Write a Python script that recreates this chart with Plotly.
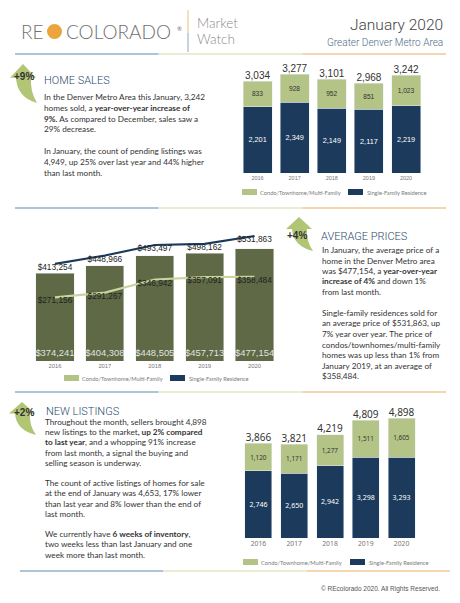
import plotly.graph_objects as go

W, H = 460, 603
def px(x): return x / W
def py(y): return 1 - y / H

# ---------------- data ----------------
years = ["2016", "2017", "2018", "2019", "2020"]
sales_condo = [833, 928, 952, 851, 1023]
sales_sfr = [2201, 2349, 2149, 2117, 2219]
sales_total = [3034, 3277, 3101, 2968, 3242]

price_all = [374241, 404308, 448505, 457713, 477154]
price_sfr = [413254, 448966, 493497, 498162, 531863]
price_condo = [271156, 291267, 346942, 357091, 358484]

list_condo = [1120, 1171, 1277, 1511, 1605]
list_sfr = [2746, 2650, 2942, 3298, 3293]
list_total = [3866, 3821, 4219, 4809, 4898]

legend_labels = ["Condo/Townhome/Multi-Family", "Single-Family Residence"]

# ---------------- styles ----------------
GREEN = "#b4c487"
NAVY = "#1c3a5c"
OLIVE = "#5f6945"
LINEGREEN = "#c9d59c"
HEAD = "#2b4a6e"
BODY = "Lato"
NUM = "Liberation Sans"
SEP_BLUE, SEP_GREEN, SEP_ORANGE = "#93b2cb", "#e0e8c6", "#f3c896"

fig = go.Figure()

# ---- chart 1: home sales ----
fig.add_bar(x=years, y=sales_sfr, xaxis="x", yaxis="y", marker_color=NAVY, width=0.78,
            text=[f"{v:,}" for v in sales_sfr], textposition="inside", insidetextanchor="middle",
            textangle=0, constraintext="none", textfont=dict(family=NUM, size=7.3, color="white"))
fig.add_bar(x=years, y=sales_condo, xaxis="x", yaxis="y", marker_color=GREEN, width=0.78,
            text=[f"{v:,}" for v in sales_condo], textposition="inside", insidetextanchor="middle",
            textangle=0, constraintext="none", textfont=dict(family=NUM, size=6.6, color="#333"))
fig.add_scatter(x=years, y=sales_total, xaxis="x", yaxis="y", mode="text",
                text=[f"{v:,}" for v in sales_total], textposition="top center",
                textfont=dict(family=NUM, size=10, color="#333"), cliponaxis=False)

# ---- chart 2: average prices ----
fig.add_bar(x=years, y=price_all, xaxis="x2", yaxis="y2", marker_color=OLIVE, width=0.764,
            text=[f"${v:,}" for v in price_all], textposition="inside", insidetextanchor="start",
            textangle=0, constraintext="none", textfont=dict(family=NUM, size=9.4, color="#e2e2e2"))
fig.add_scatter(x=years, y=price_condo, xaxis="x2", yaxis="y2", mode="lines+text",
                line=dict(color=LINEGREEN, width=2.2),
                text=[f"${v:,}" for v in price_condo], textposition="bottom center",
                textfont=dict(family=NUM, size=8.3, color="#222"), cliponaxis=False)
fig.add_scatter(x=years, y=price_sfr, xaxis="x2", yaxis="y2", mode="lines+text",
                line=dict(color=NAVY, width=2.2),
                text=[f"${v:,}" for v in price_sfr], textposition="bottom center",
                textfont=dict(family=NUM, size=8.3, color="#222"), cliponaxis=False)

# ---- chart 3: new listings ----
fig.add_bar(x=years, y=list_sfr, xaxis="x3", yaxis="y3", marker_color=NAVY, width=0.755,
            text=[f"{v:,}" for v in list_sfr], textposition="inside", insidetextanchor="middle",
            textangle=0, constraintext="none", textfont=dict(family="Noto Sans", size=7, color="white"))
fig.add_bar(x=years, y=list_condo, xaxis="x3", yaxis="y3", marker_color=GREEN, width=0.755,
            text=[f"{v:,}" for v in list_condo], textposition="inside", insidetextanchor="middle",
            textangle=0, constraintext="none", textfont=dict(family="Noto Sans", size=6.4, color="#333"))
fig.add_scatter(x=years, y=list_total, xaxis="x3", yaxis="y3", mode="text",
                text=[f"{v:,}" for v in list_total], textposition="top center",
                textfont=dict(family="Noto Sans", size=10, color="#333"), cliponaxis=False)

def xax(d0, d1, anchor, size, fam=NUM):
    return dict(domain=[px(d0), px(d1)], anchor=anchor, type="category", showgrid=False,
                showline=False, zeroline=False, ticks="", fixedrange=True,
                tickfont=dict(family=fam, size=size, color="#777"))

def yax(top, bottom, rng, anchor):
    return dict(domain=[py(bottom), py(top)], range=rng, visible=False, anchor=anchor,
                showgrid=False, zeroline=False, fixedrange=True)

shapes = []
ann = []

def t(x, y, s, size, color="#333", anchor="left", family=BODY, weight=None):
    f = dict(family=family, size=size, color=color)
    if weight:
        f["weight"] = weight
    ann.append(dict(x=px(x), y=py(y), xref="paper", yref="paper", text=s, showarrow=False,
                    xanchor=anchor, yanchor="middle", font=f))

def line(x0, y0, x1, y1, color, w=1.5):
    shapes.append(dict(type="line", xref="paper", yref="paper", x0=px(x0), y0=py(y0),
                       x1=px(x1), y1=py(y1), line=dict(color=color, width=w)))

def rect(x0, y0, x1, y1, color):
    shapes.append(dict(type="rect", xref="paper", yref="paper", x0=px(x0), y0=py(y0),
                       x1=px(x1), y1=py(y1), fillcolor=color, line=dict(width=0)))

def path(cmds, color):
    out = []
    for c in cmds:
        if isinstance(c, str):
            out.append(c)
        else:
            out.append(f"{px(c[0]):.5f},{py(c[1]):.5f}")
    shapes.append(dict(type="path", xref="paper", yref="paper", path=" ".join(out),
                       fillcolor=color, line=dict(width=0), layer="below"))

def sep(y, x0, x1):
    a = x0 + (x1 - x0) / 3
    b = x0 + 2 * (x1 - x0) / 3
    line(x0, y, a, y, SEP_BLUE)
    line(a, y, b, y, SEP_GREEN)
    line(b, y, x1, y, SEP_ORANGE)

def arrow(ox, oy, h=40, color="#b1c575"):
    k = h / 40
    path(["M", (ox + 12, oy), "L", (ox + 25, oy + 14 * k), "L", (ox + 20, oy + 14 * k),
          "Q", (ox + 19, oy + 28 * k), (ox + 26, oy + 40 * k),
          "Q", (ox + 6, oy + 34 * k), (ox + 5, oy + 14 * k), "L", (ox - 1, oy + 14 * k), "Z"], color)

def legend(y, x_green, x_navy, size=5.7):
    rect(x_green, y - 3, x_green + 15, y + 3, GREEN)
    t(x_green + 15.5, y, legend_labels[0], size, "#7a7a7a")
    rect(x_navy, y - 3, x_navy + 15, y + 3, NAVY)
    t(x_navy + 17, y, legend_labels[1], size, "#7a7a7a")

def para(x, y0, step, lines, size=8.2):
    for i, s in enumerate(lines):
        if s:
            t(x, y0 + i * step, s, size, "#333")

# ---------------- header ----------------
t(19, 32, "RE", 19, "#707070", weight=300)
shapes.append(dict(type="circle", xref="paper", yref="paper", x0=px(47), y0=py(24),
                   x1=px(62), y1=py(39), fillcolor="#eca53c", line=dict(width=0)))
t(64, 32, "COLORADO", 19, "#707070", weight=300)
t(175, 28, "®", 6, "#707070")
line(188, 10, 188, 33, "#e9cf8e", 1.2)
line(188, 33, 188, 52, "#9db6cc", 1.2)
t(195, 23, "Market", 13.5, "#8a8a8a", weight=300)
t(195, 39, "Watch", 13.5, "#8a8a8a", weight=300)
t(445, 25, "January 2020", 15.5, "#444", anchor="right", family="Roboto", weight=300)
t(445, 42, "Greater Denver Metro Area", 10, "#4e6b89", anchor="right", family="Roboto", weight=300)
sep(54, 15, 446)

# ---------------- section 1 ----------------
arrow(11, 64, 39)
t(12, 77, "<b>+9%</b>", 10, "#333", family=NUM)
t(42, 81, "HOME SALES", 11, HEAD, family="Roboto", weight=300)
para(42, 97, 10.8, [
    "In the Denver Metro Area this January, 3,242",
    "homes sold, a <b>year-over-year increase of</b>",
    "<b>9%.</b> As compared to December, sales saw a",
    "29% decrease.",
    "",
    "In January, the count of pending listings was",
    "4,949, up 25% over last year and 44% higher",
    "than last month.",
])
legend(192, 242, 348)
sep(208, 15, 446)

# ---------------- section 2 ----------------
arrow(287, 217, 34)
t(285, 235, "<b>+4%</b>", 10, "#333", family=NUM)
t(319, 236, "AVERAGE PRICES", 11, HEAD, family="Roboto", weight=300)
para(320, 250, 10.5, [
    "In January, the average price of a",
    "home in the Denver Metro area",
    "was $477,154, a <b>year-over-year</b>",
    "<b>increase of 4%</b> and down 1%",
    "from last month.",
    "",
    "Single-family residences sold for",
    "an average price of $531,863, up",
    "7% year over year. The price of",
    "condos/townhomes/multi-family",
    "homes was up less than 1% from",
    "January 2019, at an average of",
    "$358,484.",
])
legend(378, 64, 170)
sep(392, 15, 446)

# ---------------- section 3 ----------------
arrow(10, 402, 33)
t(12, 412, "<b>+2%</b>", 10, "#333", family=NUM)
t(44, 411, "NEW LISTINGS", 11, HEAD, family="Roboto", weight=300)
para(43, 422, 10.2, [
    "Throughout the month, sellers brought 4,898",
    "new listings to the market<b>, up 2% compared</b>",
    "<b>to last year</b>, and a whopping 91% increase",
    "from last month, a signal the buying and",
    "selling season is underway.",
    "",
    "The count of active listings of homes for sale",
    "at the end of January was 4,653, 17% lower",
    "than last year and 8% lower than the end of",
    "last month.",
    "",
    "We currently have <b>6 weeks of inventory</b>,",
    "two weeks less than last January and one",
    "week more than last month.",
])
legend(562, 243, 350)
sep(571, 20, 450)
t(442, 589, "© REcolorado 2020. All Rights Reserved.", 6.5, "#555", anchor="right", family=NUM)

fig.update_layout(
    width=W, height=H, margin=dict(l=0, r=0, t=0, b=0),
    paper_bgcolor="white", plot_bgcolor="rgba(0,0,0,0)",
    barmode="stack", showlegend=False,
    xaxis=xax(239, 424.6, "y", 5.5),
    yaxis=yax(62, 173, [0, 3675], "x"),
    xaxis2=xax(30, 279.5, "y2", 5.8),
    yaxis2=yax(225, 361, [0, 578700], "x2"),
    xaxis3=xax(240.6, 419.4, "y3", 6.8, "Noto Sans"),
    yaxis3=yax(405, 538, [0, 5429], "x3"),
    shapes=shapes, annotations=ann,
)

fig.write_html("out.html")
